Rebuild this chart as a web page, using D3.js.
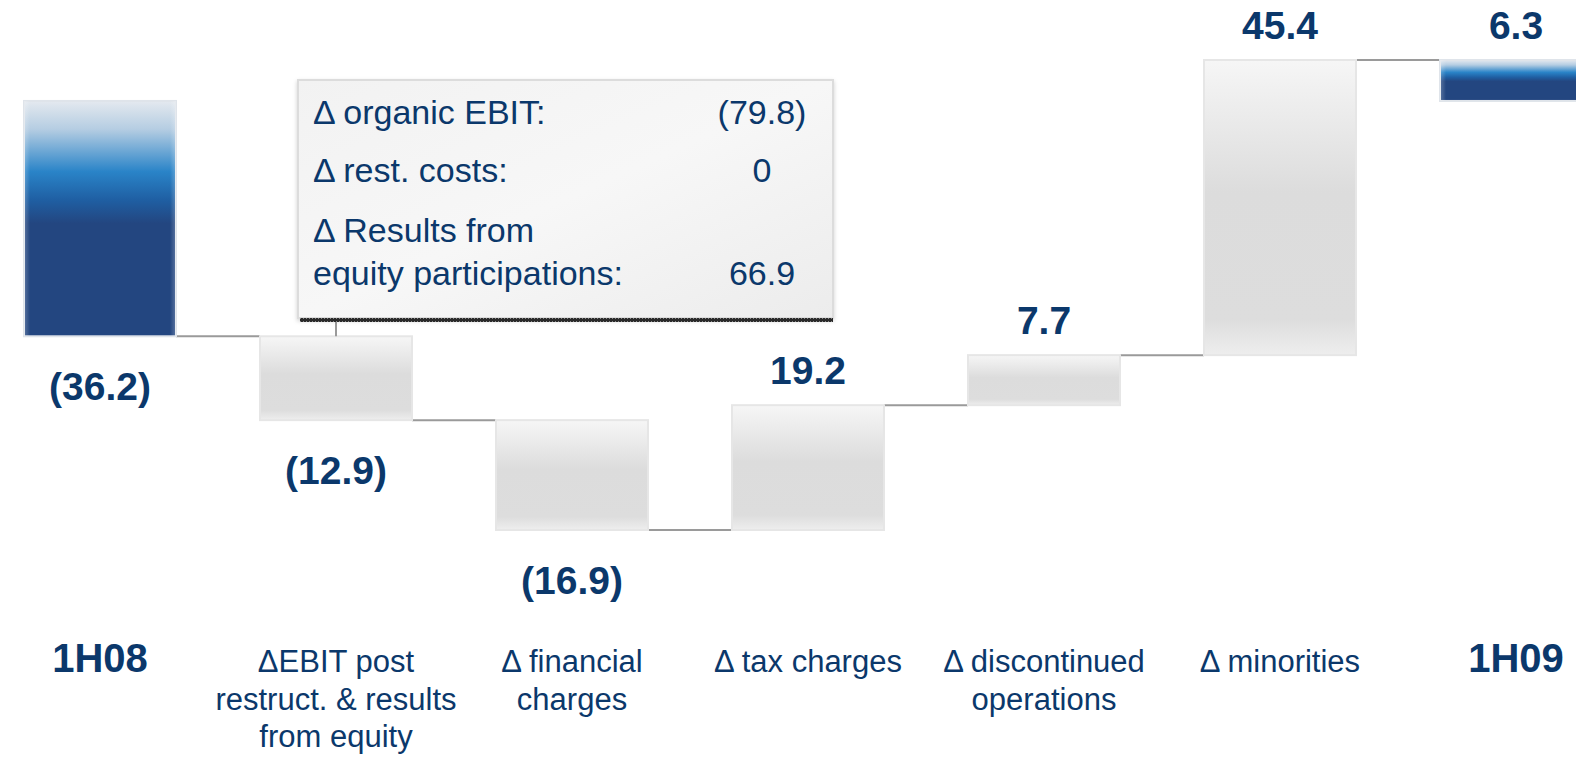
<!DOCTYPE html>
<html>
<head>
<meta charset="utf-8">
<script src="https://cdn.jsdelivr.net/npm/d3@7"></script>
<style>
  html, body { margin: 0; padding: 0; background: #ffffff; }
  svg { display: block; }
  text { font-family: "Liberation Sans", Arial, Helvetica, sans-serif; fill: #0b386b; }
</style>
</head>
<body>
<svg id="chart" width="1576" height="758"></svg>
<script>
// ---- data ----
const categories = ["1H08", "ΔEBIT post\nrestruct. & results\nfrom equity", "Δ financial\ncharges",
                    "Δ tax charges", "Δ discontinued\noperations", "Δ minorities", "1H09"];
const values = [-36.2, -12.9, -16.9, 19.2, 7.7, 45.4, 6.3];
const kinds = ["total", "delta", "delta", "delta", "delta", "delta", "total"];

const annotLabels = ["Δ organic EBIT:", "Δ rest. costs:", "Δ Results from\nequity participations:"];
const annotValues = [-79.8, 0, 66.9];

// ---- layout ----
const svg = d3.select("#chart");

// waterfall steps
let cum = 0;
const steps = values.map((v, i) => {
  let start, end;
  if (kinds[i] === "total") { start = 0; end = v; }
  else { start = cum; end = cum + v; }
  cum = end;
  return { cat: categories[i], value: v, kind: kinds[i], start, end };
});

const lo = d3.min(steps, d => Math.min(d.start, d.end));
const hi = d3.max(steps, d => Math.max(d.start, d.end));

const x = d3.scalePoint().domain(categories).range([100, 1516]);
const y = d3.scaleLinear().domain([lo, hi]).range([530, 60]);
const barW = 152;

const fmt = v => v < 0 ? "(" + d3.format(".1f")(-v) + ")" : (v === 0 ? "0" : d3.format(".1f")(v));

// ---- defs ----
const defs = svg.append("defs");
const gBlue = defs.append("linearGradient").attr("id", "blueGrad").attr("x1", 0).attr("y1", 0).attr("x2", 0).attr("y2", 1);
[[0, "#e4e9ef"], [0.12, "#b5cde2"], [0.3, "#2a84c8"], [0.42, "#1f5fa3"], [0.52, "#234680"], [1, "#234680"]]
  .forEach(s => gBlue.append("stop").attr("offset", s[0]).attr("stop-color", s[1]));
const gBlueSide = defs.append("linearGradient").attr("id", "blueSide").attr("x1", 0).attr("y1", 0).attr("x2", 1).attr("y2", 0);
[[0, "rgba(255,255,255,0.25)"], [0.04, "rgba(255,255,255,0)"], [0.96, "rgba(255,255,255,0)"], [1, "rgba(255,255,255,0.25)"]]
  .forEach(s => gBlueSide.append("stop").attr("offset", s[0]).attr("stop-color", s[1]));

const gGray = defs.append("linearGradient").attr("id", "grayGrad").attr("x1", 0).attr("y1", 0).attr("x2", 0).attr("y2", 1);
[[0, "#f6f6f6"], [0.45, "#dcdcdc"], [0.88, "#dddddd"], [1, "#eeeeee"]]
  .forEach(s => gGray.append("stop").attr("offset", s[0]).attr("stop-color", s[1]));

const gBox = defs.append("linearGradient").attr("id", "boxGrad").attr("x1", 0).attr("y1", 0).attr("x2", 1).attr("y2", 1);
[[0, "#f2f2f2"], [0.5, "#f7f7f7"], [1, "#ececec"]]
  .forEach(s => gBox.append("stop").attr("offset", s[0]).attr("stop-color", s[1]));

const pat = defs.append("pattern").attr("id", "dots").attr("width", 3).attr("height", 3).attr("patternUnits", "userSpaceOnUse");
pat.append("rect").attr("width", 3).attr("height", 3).attr("fill", "#2a2a2a");
pat.append("rect").attr("width", 1).attr("height", 1).attr("fill", "#8a8a8a");

const shadow = defs.append("filter").attr("id", "shadow").attr("x", "-5%").attr("y", "-5%").attr("width", "110%").attr("height", "115%");
shadow.append("feDropShadow").attr("dx", 0).attr("dy", 2).attr("stdDeviation", 2).attr("flood-color", "#000").attr("flood-opacity", 0.18);

// ---- connectors ----
svg.append("g").selectAll("line").data(steps.slice(0, -1)).join("line")
  .attr("x1", d => x(d.cat) + barW / 2)
  .attr("x2", (d, i) => x(steps[i + 1].cat) - barW / 2)
  .attr("y1", d => y(d.end)).attr("y2", d => y(d.end))
  .attr("stroke", "#9a9a9a").attr("stroke-width", 2);

// ---- bars ----
const bars = svg.append("g");
bars.selectAll("rect.bar").data(steps).join("rect")
  .attr("class", "bar")
  .attr("x", d => x(d.cat) - barW / 2)
  .attr("width", barW)
  .attr("y", d => y(Math.max(d.start, d.end)))
  .attr("height", d => Math.abs(y(d.start) - y(d.end)))
  .attr("fill", d => d.kind === "total" ? "url(#blueGrad)" : "url(#grayGrad)")
  .attr("stroke", d => d.kind === "total" ? "#dfe4ea" : "#e6e6e6")
  .attr("stroke-width", 2);
bars.selectAll("rect.side").data(steps.filter(d => d.kind === "total")).join("rect")
  .attr("class", "side")
  .attr("x", d => x(d.cat) - barW / 2)
  .attr("width", barW)
  .attr("y", d => y(Math.max(d.start, d.end)))
  .attr("height", d => Math.abs(y(d.start) - y(d.end)))
  .attr("fill", "url(#blueSide)");

// ---- value labels ----
svg.append("g").selectAll("text").data(steps).join("text")
  .attr("x", d => x(d.cat))
  .attr("y", d => d.value < 0 ? y(Math.min(d.start, d.end)) + 64 : y(Math.max(d.start, d.end)) - 21)
  .attr("text-anchor", "middle")
  .attr("font-size", 39).attr("font-weight", "bold")
  .text(d => fmt(d.value));

// ---- category labels ----
const catG = svg.append("g");
steps.forEach(d => {
  const t = catG.append("text")
    .attr("x", x(d.cat)).attr("y", 672)
    .attr("text-anchor", "middle")
    .attr("font-size", d.kind === "total" ? 40 : 31)
    .attr("font-weight", d.kind === "total" ? "bold" : "normal");
  d.cat.split("\n").forEach((line, j) => {
    t.append("tspan").attr("x", x(d.cat)).attr("dy", j === 0 ? 0 : 37.5).text(line);
  });
});

// ---- annotation box ----
const box = { x: 298, y: 80, w: 535, h: 238 };
const target = steps[1];
const ann = svg.append("g");
ann.append("line")
  .attr("x1", x(target.cat)).attr("x2", x(target.cat))
  .attr("y1", box.y + box.h + 4).attr("y2", y(Math.max(target.start, target.end)))
  .attr("stroke", "#9a9a9a").attr("stroke-width", 2);
ann.append("rect")
  .attr("x", box.x).attr("y", box.y).attr("width", box.w).attr("height", box.h)
  .attr("fill", "url(#boxGrad)").attr("stroke", "#dcdcdc").attr("stroke-width", 2)
  .attr("filter", "url(#shadow)");
ann.append("rect")
  .attr("x", box.x + 2).attr("y", box.y + box.h).attr("width", box.w - 2).attr("height", 4)
  .attr("fill", "url(#dots)");

const lineBase = [124, 182, 242];
annotLabels.forEach((lab, i) => {
  const t = ann.append("text").attr("x", 313).attr("y", lineBase[i]).attr("font-size", 34);
  const parts = lab.split("\n");
  parts.forEach((p, j) => t.append("tspan").attr("x", 313).attr("dy", j === 0 ? 0 : 43).text(p));
  ann.append("text")
    .attr("x", 762).attr("y", lineBase[i] + (parts.length - 1) * 43)
    .attr("text-anchor", "middle").attr("font-size", 34)
    .text(fmt(annotValues[i]));
});
</script>
</body>
</html>
